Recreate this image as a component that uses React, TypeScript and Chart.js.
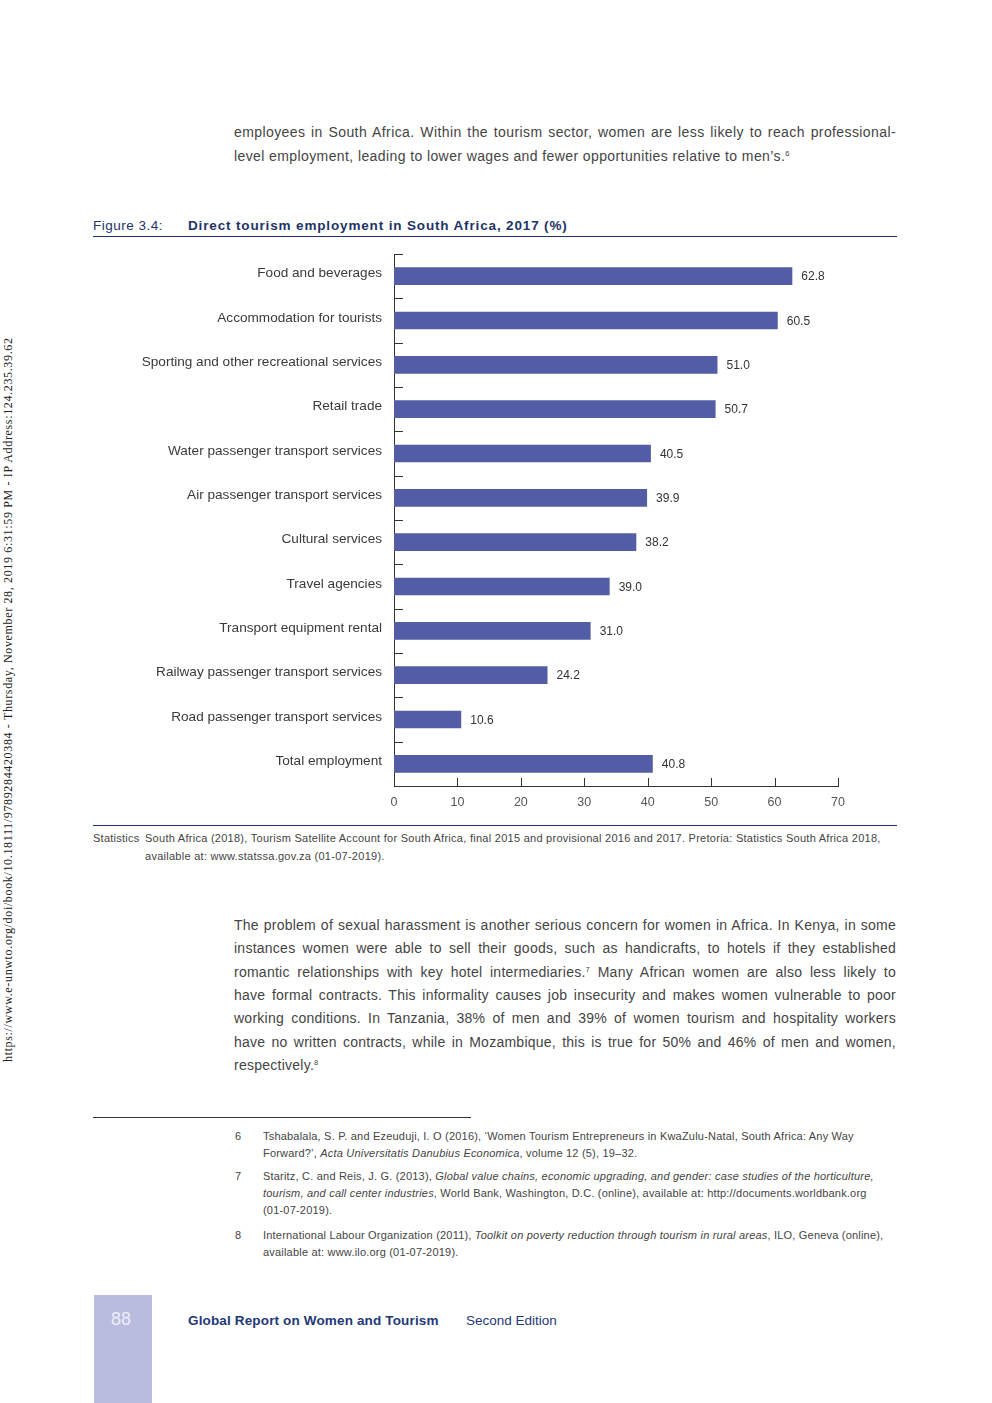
import React, { useEffect, useRef } from "react";
import { Chart, registerables } from "chart.js";

Chart.register(...registerables);

const categories = [
  "Food and beverages",
  "Accommodation for tourists",
  "Sporting and other recreational services",
  "Retail trade",
  "Water passenger transport services",
  "Air passenger transport services",
  "Cultural services",
  "Travel agencies",
  "Transport equipment rental",
  "Railway passenger transport services",
  "Road passenger transport services",
  "Total employment",
];
// bar lengths as drawn in the picture
const barValues = [62.8, 60.5, 51.0, 50.7, 40.5, 39.9, 38.2, 34.0, 31.0, 24.2, 10.6, 40.8];
// labels as printed next to the bars
const valueLabels = ["62.8", "60.5", "51.0", "50.7", "40.5", "39.9", "38.2", "39.0", "31.0", "24.2", "10.6", "40.8"];
const xTicks = [0, 10, 20, 30, 40, 50, 60, 70];

const SANS = "'Liberation Sans', Arial, Helvetica, sans-serif";
const NAVY = "#1d3466";
const BAR = "#525da6";
const TEXT = "#444444";

const para1 = [
  "employees in South Africa. Within the tourism sector, women are less likely to reach professional-",
  "level employment, leading to lower wages and fewer opportunities relative to men\u2019s.|6",
];
const para2 = [
  "The problem of sexual harassment is another serious concern for women in Africa. In Kenya, in some",
  "instances women were able to sell their goods, such as handicrafts, to hotels if they established",
  "romantic relationships with key hotel intermediaries.|7| Many African women are also less likely to",
  "have formal contracts. This informality causes job insecurity and makes women vulnerable to poor",
  "working conditions. In Tanzania, 38% of men and 39% of women tourism and hospitality workers",
  "have no written contracts, while in Mozambique, this is true for 50% and 46% of men and women,",
  "respectively.|8",
];

function renderSup(line: string) {
  const parts = line.split("|");
  return parts.map((p, i) =>
    i % 2 === 1 ? (
      <sup key={i} style={{ fontSize: "7.5px", lineHeight: 0, verticalAlign: "5px" }}>{p}</sup>
    ) : (
      <span key={i}>{p}</span>
    )
  );
}

function Paragraph({ lines, top, lh, ls }: { lines: string[]; top: number; lh: number; ls: number }) {
  return (
    <div style={{ position: "absolute", left: 234, top, width: 662, fontFamily: SANS, fontSize: "14px", letterSpacing: ls + "px", color: TEXT, lineHeight: lh + "px" }}>
      {lines.map((l, i) => (
        <div key={i} style={{ textAlign: "justify", textAlignLast: i < lines.length - 1 ? "justify" : "left", whiteSpace: "nowrap", height: lh }}>
          {renderSup(l)}
        </div>
      ))}
    </div>
  );
}

const footnotes: { n: string; lines: React.ReactNode[]; top: number }[] = [
  {
    n: "6",
    top: 1128,
    lines: [
      <>Tshabalala, S. P. and Ezeuduji, I. O (2016), &lsquo;Women Tourism Entrepreneurs in KwaZulu-Natal, South Africa: Any Way</>,
      <>Forward?&rsquo;, <i>Acta Universitatis Danubius Economica</i>, volume 12 (5), 19&ndash;32.</>,
    ],
  },
  {
    n: "7",
    top: 1168,
    lines: [
      <>Staritz, C. and Reis, J. G. (2013), <i>Global value chains, economic upgrading, and gender: case studies of the horticulture,</i></>,
      <><i>tourism, and call center industries</i>, World Bank, Washington, D.C. (online), available at: http://documents.worldbank.org</>,
      <>(01-07-2019).</>,
    ],
  },
  {
    n: "8",
    top: 1227,
    lines: [
      <>International Labour Organization (2011), <i>Toolkit on poverty reduction through tourism in rural areas</i>, ILO, Geneva (online),</>,
      <>available at: www.ilo.org (01-07-2019).</>,
    ],
  },
];

export default function App() {
  const ref = useRef<HTMLCanvasElement | null>(null);

  useEffect(() => {
    if (!ref.current) return;
    const ticksPlugin = {
      id: "innerTicks",
      afterDraw(chart: any) {
        const ctx = chart.ctx;
        const y = chart.scales.y;
        const x = chart.scales.x;
        const area = chart.chartArea;
        ctx.save();
        ctx.strokeStyle = "#333333";
        ctx.lineWidth = 1;
        const half = (y.getPixelForValue(1) - y.getPixelForValue(0)) / 2;
        for (let i = 0; i < categories.length; i++) {
          const py = Math.round(y.getPixelForValue(i) - half) + 0.5;
          ctx.beginPath();
          ctx.moveTo(area.left, py);
          ctx.lineTo(area.left + 9, py);
          ctx.stroke();
        }
        xTicks.forEach((v) => {
          if (v === 0) return;
          const px = Math.round(x.getPixelForValue(v)) + 0.5;
          ctx.beginPath();
          ctx.moveTo(px, area.bottom);
          ctx.lineTo(px, area.bottom - 8);
          ctx.stroke();
        });
        ctx.restore();
      },
    };
    const labelsPlugin = {
      id: "barLabels",
      afterDatasetsDraw(chart: any) {
        const ctx = chart.ctx;
        const meta = chart.getDatasetMeta(0);
        ctx.save();
        ctx.font = "12px " + SANS;
        ctx.fillStyle = "#333333";
        ctx.textAlign = "left";
        ctx.textBaseline = "middle";
        meta.data.forEach((bar: any, i: number) => {
          ctx.fillText(valueLabels[i], bar.x + 9, bar.y + 1);
        });
        ctx.restore();
      },
    };
    const chart = new Chart(ref.current, {
      type: "bar",
      data: {
        labels: categories,
        datasets: [
          {
            data: barValues,
            backgroundColor: BAR,
            borderWidth: 0,
            barPercentage: 0.8,
            categoryPercentage: 0.5,
          },
        ],
      },
      options: {
        indexAxis: "y",
        animation: false,
        responsive: false,
        events: [],
        layout: { padding: { top: 9, right: 59, left: 0, bottom: 0 } },
        plugins: { legend: { display: false }, tooltip: { enabled: false }, title: { display: false } },
        scales: {
          x: {
            type: "linear",
            min: 0,
            max: 70,
            afterFit: (s: any) => {
              s.height = 34;
              s.paddingLeft = 0;
            },
            afterBuildTicks: (s: any) => {
              s.ticks = xTicks.map((v) => ({ value: v }));
            },
            grid: { display: false, drawTicks: false },
            border: { display: true, color: "#333333", width: 1 },
            ticks: { padding: 9, color: "#555555", font: { family: SANS, size: 12.5 }, maxRotation: 0 },
          },
          y: {
            type: "category",
            offset: true,
            afterFit: (s: any) => {
              s.width = 301;
              s.paddingTop = 0;
              s.paddingBottom = 0;
            },
            grid: { display: false, drawTicks: false },
            border: { display: true, color: "#333333", width: 1 },
            ticks: { padding: 12, labelOffset: -2.5, color: "#3a3a3a", font: { family: SANS, size: 13.6 }, autoSkip: false },
          },
        },
      },
      plugins: [ticksPlugin, labelsPlugin],
    } as any);
    return () => chart.destroy();
  }, []);

  const abs = (s: React.CSSProperties): React.CSSProperties => ({ position: "absolute", ...s });

  return (
    <div style={{ position: "absolute", left: 0, top: 0, width: 992, height: 1403, background: "#ffffff", overflow: "hidden" }}>
      {/* vertical access stamp */}
      <div
        style={abs({
          left: 0,
          top: 1062,
          width: 722,
          height: 16,
          lineHeight: "16px",
          transform: "rotate(-90deg)",
          transformOrigin: "0 0",
          whiteSpace: "nowrap",
          fontFamily: "'Liberation Serif', 'Times New Roman', serif",
          fontSize: "12px",
          letterSpacing: "0.65px",
          color: "#222",
        })}
      >
        https://www.e-unwto.org/doi/book/10.18111/9789284420384 - Thursday, November 28, 2019 6:31:59 PM - IP Address:124.235.39.62
      </div>

      <Paragraph lines={para1} top={120} lh={24} ls={0.4} />

      {/* figure title */}
      <div style={abs({ left: 93, top: 218, fontFamily: SANS, fontSize: "13.5px", letterSpacing: "0.5px", color: NAVY, lineHeight: "16px", whiteSpace: "nowrap" })}>
        Figure 3.4:
      </div>
      <div style={abs({ left: 188, top: 218, fontFamily: SANS, fontSize: "13.5px", fontWeight: "bold", color: NAVY, lineHeight: "16px", whiteSpace: "nowrap", letterSpacing: "0.85px" })}>
        Direct tourism employment in South Africa, 2017 (%)
      </div>
      <div style={abs({ left: 93, top: 236, width: 804, height: 1, background: NAVY })} />

      <canvas ref={ref} width={804} height={575} style={abs({ left: 93, top: 245, width: 804, height: 575 })} />

      <div style={abs({ left: 93, top: 825, width: 804, height: 1, background: NAVY })} />

      {/* source */}
      <div style={abs({ left: 93, top: 829, fontFamily: SANS, fontSize: "11px", letterSpacing: "0.25px", color: TEXT, lineHeight: "18px", whiteSpace: "nowrap" })}>
        Statistics
      </div>
      <div style={abs({ left: 145, top: 829, fontFamily: SANS, fontSize: "11px", letterSpacing: "0.27px", color: TEXT, lineHeight: "18px", whiteSpace: "nowrap" })}>
        <div>South Africa (2018), Tourism Satellite Account for South Africa, final 2015 and provisional 2016 and 2017. Pretoria: Statistics South Africa 2018,</div>
        <div>available at: www.statssa.gov.za (01-07-2019).</div>
      </div>

      <Paragraph lines={para2} top={914} lh={23.33} ls={0.25} />

      {/* footnotes */}
      <div style={abs({ left: 93, top: 1117, width: 378, height: 1, background: "#333" })} />
      {footnotes.map((f) => (
        <div key={f.n} style={abs({ left: 0, top: f.top, fontFamily: SANS, fontSize: "11px", letterSpacing: "0.2px", color: TEXT, lineHeight: "17px", whiteSpace: "nowrap" })}>
          <div style={abs({ left: 235, top: 0 })}>{f.n}</div>
          <div style={abs({ left: 263, top: 0 })}>
            {f.lines.map((l, i) => (
              <div key={i}>{l}</div>
            ))}
          </div>
        </div>
      ))}

      {/* footer */}
      <div style={abs({ left: 94, top: 1295, width: 58, height: 108, background: "#b9bcde" })} />
      <div style={abs({ left: 111, top: 1309, fontFamily: SANS, fontSize: "18px", color: "#eceef8", lineHeight: "20px" })}>88</div>
      <div style={abs({ left: 188, top: 1313, fontFamily: SANS, fontSize: "13.5px", letterSpacing: "0.15px", fontWeight: "bold", color: "#1f3978", lineHeight: "16px", whiteSpace: "nowrap" })}>
        Global Report on Women and Tourism
      </div>
      <div style={abs({ left: 466, top: 1313, fontFamily: SANS, fontSize: "13.5px", color: "#1f3978", lineHeight: "16px", whiteSpace: "nowrap" })}>
        Second Edition
      </div>
    </div>
  );
}
